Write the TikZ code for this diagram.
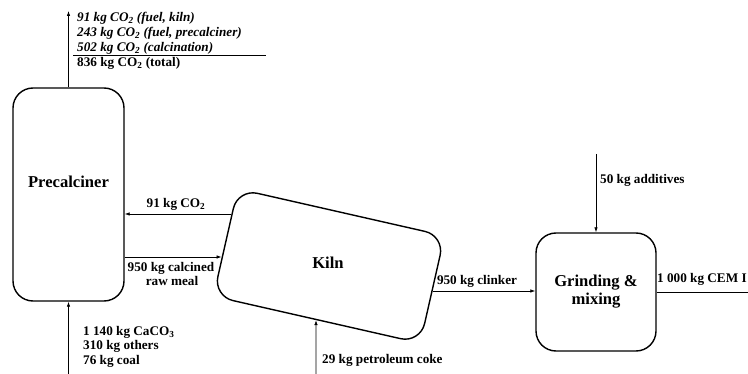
\documentclass[tikz,border=0pt]{standalone}
\usepackage{fontspec}
\setmainfont{Liberation Serif}
\usetikzlibrary{arrows.meta}
\begin{document}
\begin{tikzpicture}[x=1pt,y=-1pt,
  box/.style={draw, line width=1.4pt, rounded corners=20pt, inner sep=0pt},
  flow/.style={draw, line width=0.75pt, -{Latex[length=5pt,width=3.5pt]}},
  lbl/.style={font=\fontsize{13.2}{15}\selectfont\bfseries, inner sep=0pt},
  ilbl/.style={font=\fontsize{13.2}{15}\selectfont\bfseries\itshape, inner sep=0pt},
  big/.style={font=\fontsize{16.6}{18}\selectfont\bfseries, align=center}]
\useasboundingbox (0,0) rectangle (748,374);
% process boxes
\node[box, minimum width=111pt, minimum height=213pt] (pre) at (68.5,194.5) {};
\node[big] (pretxt) at (68.5,182) {Precalciner};
\node[box, minimum width=212pt, minimum height=110pt, rotate=-12.8] (kiln) at (329,266) {};
\node[big] (kilntxt) at (328,263) {Kiln};
\node[box, big, minimum width=120pt, minimum height=118pt] (grind) at (596,292) {Grinding \&\\mixing};
% CO2 output
\coordinate (co2end) at (68.5,11);
\draw[flow] (pre.north) -- (co2end);
\node[ilbl, anchor=base west] (t1) at (77,22) {91 kg CO\textsubscript{2} (fuel, kiln)};
\node[ilbl, anchor=base west] (t2) at (77,37) {243 kg CO\textsubscript{2} (fuel, precalciner)};
\node[ilbl, anchor=base west] (t3) at (77,52) {502 kg CO\textsubscript{2} (calcination)};
\node[lbl, anchor=base west] (t4) at (77,67) {836 kg CO\textsubscript{2} (total)};
\coordinate (sumL) at (73,55.5);
\coordinate (sumR) at (266,55.5);
\draw[line width=1pt] (sumL) -- (sumR);
% raw input
\coordinate (rawin) at (68.5,376);
\draw[flow] (rawin) -- (pre.south);
\node[lbl, anchor=base west] (r1) at (83,336) {1 140 kg CaCO\textsubscript{3}};
\node[lbl, anchor=base west] (r2) at (83,350) {310 kg others};
\node[lbl, anchor=base west] (r3) at (83,365) {76 kg coal};
% kiln gas to precalciner
\coordinate (k1) at (intersection of kiln.north west--kiln.south west and 0,214--10,214);
\draw[flow] (k1) -- (k1 -| pre.east);
\node[lbl, anchor=base] (l1) at (176,208) {91 kg CO\textsubscript{2}};
% calcined meal to kiln
\coordinate (k2) at (intersection of kiln.north west--kiln.south west and 0,257--10,257);
\draw[flow] (pre.east |- k2) -- (k2);
\node[lbl, anchor=base] (l2a) at (171,272) {950 kg calcined};
\node[lbl, anchor=base] (l2b) at (172,286) {raw meal};
% clinker
\coordinate (k3) at (intersection of kiln.north east--kiln.south east and 0,291--10,291);
\draw[flow] (k3) -- (k3 -| grind.west);
\node[lbl, anchor=base] (l3) at (477,285) {950 kg clinker};
% petroleum coke
\coordinate (k4) at (intersection of kiln.south west--kiln.south east and 316,0--316,10);
\coordinate (cokein) at (316,376);
\draw[flow] (cokein) -- (k4);
\node[lbl, anchor=base west] (l4) at (322,364) {29 kg petroleum coke};
% additives
\coordinate (addin) at (596,154);
\draw[flow] (addin) -- (grind.north);
\node[lbl, anchor=base west] (l5) at (600,184) {50 kg additives};
% cement output
\coordinate (cemout) at (770,292);
\draw[flow] (grind.east) -- (cemout);
\node[lbl, anchor=base west] (l6) at (657,283) {1 000 kg CEM I};
\end{tikzpicture}
\end{document}
